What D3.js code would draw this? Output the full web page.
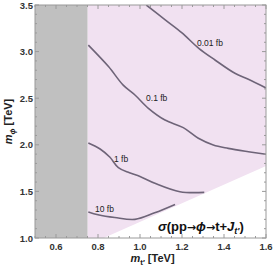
<!DOCTYPE html>
<html>
<head>
<meta charset="utf-8">
<script src="https://cdn.jsdelivr.net/npm/d3@7"></script>
<style>
  body { margin: 0; background: #fff; }
  svg { display: block; font-family: 'Liberation Sans', Arial, sans-serif; }
</style>
</head>
<body>
<div id="chart"></div>
<script>
// axis ticks
const xTicks = [0.6, 0.8, 1.0, 1.2, 1.4, 1.6];
const yTicks = [1.0, 1.5, 2.0, 2.5, 3.0, 3.5];

// excluded region (m_t' < 0.75 TeV) and kinematic threshold m_phi > m_t' + m_t
const excludedMax = 0.75;
const topMass = 0.173;

// contour levels and their curves [m_t', m_phi]
const levels = ['0.01 fb', '0.1 fb', '1 fb', '10 fb'];
const contour001 = [[1.03, 3.50], [1.12, 3.34], [1.20, 3.20], [1.28, 3.035], [1.357, 2.91], [1.452, 2.767], [1.516, 2.703], [1.60, 2.61]];
const contour01 = [[0.754, 3.07], [0.85, 2.84], [0.92, 2.64], [0.976, 2.534], [1.04, 2.392], [1.119, 2.266], [1.206, 2.184], [1.278, 2.07], [1.349, 1.998], [1.42, 1.962], [1.516, 1.926], [1.60, 1.898]];
const contour1 = [[0.754, 2.02], [0.81, 1.955], [0.857, 1.866], [0.897, 1.755], [0.95, 1.70], [1.0, 1.66], [1.071, 1.587], [1.19, 1.497], [1.306, 1.49]];
const contour10 = [[0.754, 1.28], [0.80, 1.25], [0.88, 1.22], [0.976, 1.20], [1.07, 1.27], [1.167, 1.36]];
const contours = [contour001, contour01, contour1, contour10];

const svgWidth = 275;
const svgHeight = 269;
const margin = { left: 35, right: 9, top: 5, bottom: 31 };

const svg = d3.select('#chart')
    .append('svg')
    .attr('width', svgWidth)
    .attr('height', svgHeight);

const x = d3.scaleLinear().domain([0.5, 1.6]).range([margin.left, svgWidth - margin.right]);
const y = d3.scaleLinear().domain([1.0, 3.5]).range([svgHeight - margin.bottom, margin.top]);

svg.append('defs').append('clipPath')
    .attr('id', 'plotClip')
    .append('rect')
    .attr('x', x(0.5)).attr('y', y(3.5))
    .attr('width', x(1.6) - x(0.5)).attr('height', y(1.0) - y(3.5));

const plot = svg.append('g').attr('clip-path', 'url(#plotClip)');

// allowed region
plot.append('rect')
    .attr('x', x(excludedMax)).attr('y', y(3.5))
    .attr('width', x(1.6) - x(excludedMax)).attr('height', y(1.0) - y(3.5))
    .attr('fill', '#f1e1f1');

// kinematically forbidden triangle
const thresholdPts = [[1.0 - topMass, 1.0], [1.6, 1.6 + topMass], [1.6, 1.0]];
plot.append('path')
    .attr('d', d3.line().x(d => x(d[0])).y(d => y(d[1]))(thresholdPts) + 'Z')
    .attr('fill', '#ffffff');

// excluded region
plot.append('rect')
    .attr('x', x(0.5)).attr('y', y(3.5))
    .attr('width', x(excludedMax) - x(0.5)).attr('height', y(1.0) - y(3.5))
    .attr('fill', '#c0c0c0');

const line = d3.line()
    .x(d => x(d[0]))
    .y(d => y(d[1]))
    .curve(d3.curveCatmullRom);

plot.selectAll('path.contour')
    .data(contours)
    .enter()
    .append('path')
    .attr('class', 'contour')
    .attr('d', line)
    .attr('fill', 'none')
    .attr('stroke', '#6e6478')
    .attr('stroke-width', 1.6);

// contour labels
const labelAnchors = [[1.271, 3.06], [1.029, 2.47], [0.876, 1.815], [0.786, 1.279]];
svg.selectAll('text.level')
    .data(levels)
    .enter()
    .append('text')
    .attr('class', 'level')
    .attr('x', (d, i) => x(labelAnchors[i][0]))
    .attr('y', (d, i) => y(labelAnchors[i][1]))
    .attr('font-size', 8.5)
    .attr('fill', '#222')
    .text(d => d);

// frame and ticks
const frame = svg.append('g');
frame.append('rect')
    .attr('x', x(0.5)).attr('y', y(3.5))
    .attr('width', x(1.6) - x(0.5)).attr('height', y(1.0) - y(3.5))
    .attr('fill', 'none')
    .attr('stroke', '#9a9a9a')
    .attr('stroke-width', 1);

const xMinor = d3.range(0.5, 1.6001, 0.05).filter(v => !xTicks.some(t => Math.abs(t - v) < 1e-6));
const yMinor = d3.range(1.0, 3.5001, 0.1).filter(v => !yTicks.some(t => Math.abs(t - v) < 1e-6));

function xTickMarks(vals, len) {
    vals.forEach(v => {
        frame.append('line')
            .attr('x1', x(v)).attr('x2', x(v))
            .attr('y1', y(1.0)).attr('y2', y(1.0) - len)
            .attr('stroke', '#9a9a9a');
        frame.append('line')
            .attr('x1', x(v)).attr('x2', x(v))
            .attr('y1', y(3.5)).attr('y2', y(3.5) + len)
            .attr('stroke', '#9a9a9a');
    });
}
function yTickMarks(vals, len) {
    vals.forEach(v => {
        frame.append('line')
            .attr('x1', x(0.5)).attr('x2', x(0.5) + len)
            .attr('y1', y(v)).attr('y2', y(v))
            .attr('stroke', '#9a9a9a');
        frame.append('line')
            .attr('x1', x(1.6)).attr('x2', x(1.6) - len)
            .attr('y1', y(v)).attr('y2', y(v))
            .attr('stroke', '#9a9a9a');
    });
}
xTickMarks(xTicks, 4);
xTickMarks(xMinor, 2);
yTickMarks(yTicks, 4);
yTickMarks(yMinor, 2);

svg.selectAll('text.xtick')
    .data(xTicks)
    .enter()
    .append('text')
    .attr('class', 'xtick')
    .attr('x', d => x(d))
    .attr('y', y(1.0) + 12)
    .attr('text-anchor', 'middle')
    .attr('font-size', 9.5)
    .attr('font-weight', 'bold')
    .attr('fill', '#333')
    .text(d => d.toFixed(1));

svg.selectAll('text.ytick')
    .data(yTicks)
    .enter()
    .append('text')
    .attr('class', 'ytick')
    .attr('x', x(0.5) - 2)
    .attr('y', d => y(d) + 3.5)
    .attr('text-anchor', 'end')
    .attr('font-size', 9.5)
    .attr('font-weight', 'bold')
    .attr('fill', '#333')
    .text(d => d.toFixed(1));

// axis titles
const xTitle = svg.append('text')
    .attr('x', (x(0.5) + x(1.6)) / 2 + 2)
    .attr('y', 262)
    .attr('text-anchor', 'middle')
    .attr('font-size', 11)
    .attr('font-weight', 'bold')
    .attr('fill', '#222');
xTitle.append('tspan').attr('font-style', 'italic').text('m');
xTitle.append('tspan').attr('font-size', 8).attr('dy', 2.5).text('t′');
xTitle.append('tspan').attr('dy', -2.5).text(' [TeV]');

const yTitle = svg.append('text')
    .attr('transform', `translate(${12}, ${(y(1.0) + y(3.5)) / 2}) rotate(-90)`)
    .attr('text-anchor', 'middle')
    .attr('font-size', 11)
    .attr('font-weight', 'bold')
    .attr('fill', '#222');
yTitle.append('tspan').attr('font-style', 'italic').text('m');
yTitle.append('tspan').attr('font-size', 8).attr('dy', 2.5).attr('font-style', 'italic').text('ϕ');
yTitle.append('tspan').attr('dy', -2.5).text(' [TeV]');

// process annotation
const note = svg.append('text')
    .attr('x', 158)
    .attr('y', 231)
    .attr('font-size', 13)
    .attr('font-weight', 'bold')
    .attr('fill', '#111');
note.append('tspan').attr('font-style', 'italic').text('σ');
note.append('tspan').text('(pp');
note.append('tspan').attr('font-family', 'DejaVu Sans').attr('font-size', 11).text('→');
note.append('tspan').attr('font-style', 'italic').text('ϕ');
note.append('tspan').attr('font-family', 'DejaVu Sans').attr('font-size', 11).text('→');
note.append('tspan').text('t+');
note.append('tspan').attr('font-style', 'italic').text('J');
note.append('tspan').attr('font-size', 9).attr('dy', 3).attr('font-style', 'italic').text('t′');
note.append('tspan').attr('dy', -3).text(')');
</script>
</body>
</html>
